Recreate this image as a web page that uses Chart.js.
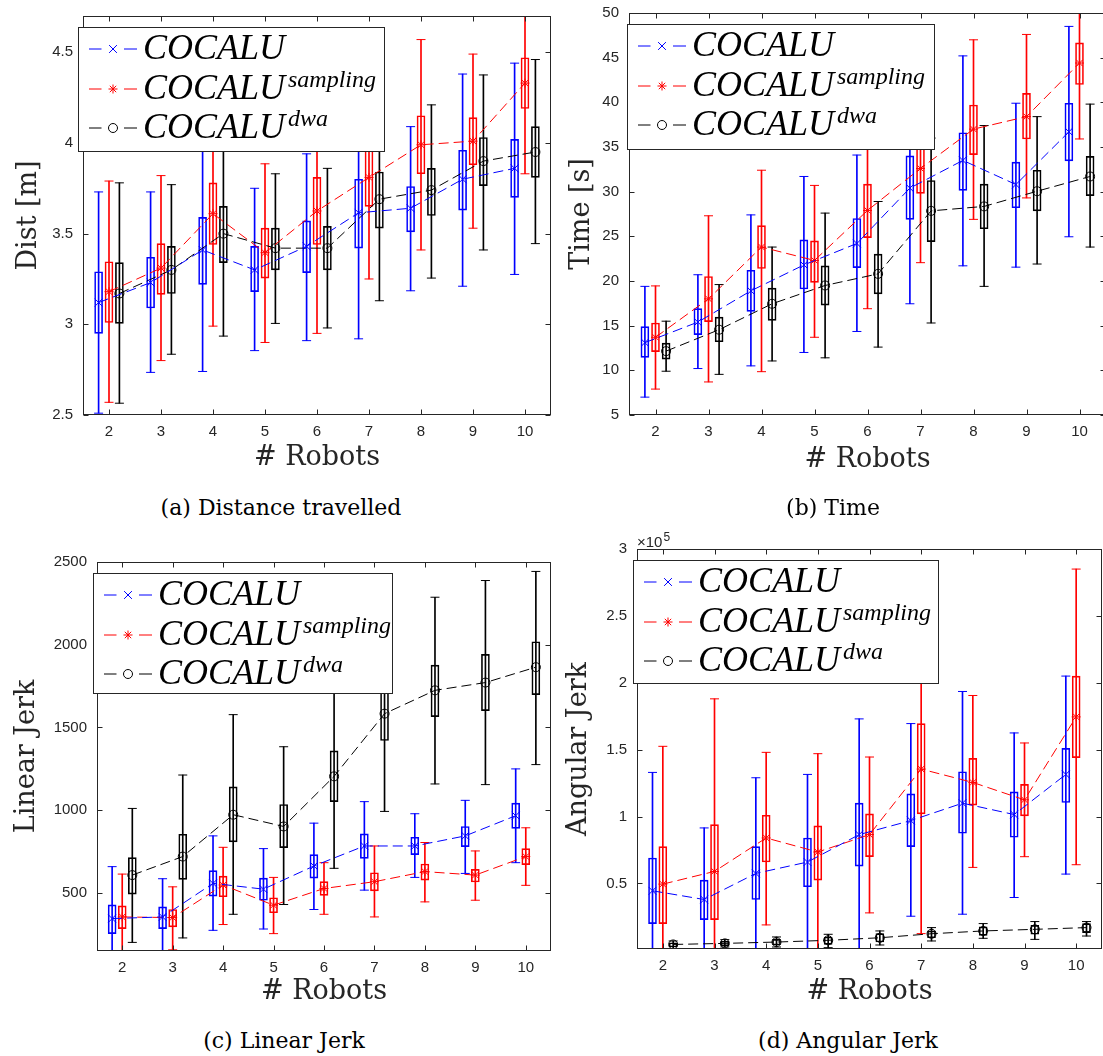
<!DOCTYPE html>
<html>
<head>
<meta charset="utf-8">
<script src="https://cdn.jsdelivr.net/npm/chart.js@4/dist/chart.umd.min.js"></script>
<style>
  body { margin: 0; width: 1103px; height: 1056px; overflow: hidden; background: #fff; position: relative; }
  .panel { position: absolute; }
  .legend { position: absolute; background: #fff; border: 1px solid #262626; box-sizing: border-box; }
  .row { position: absolute; left: 0; right: 0; height: 40px; }
  .row svg { position: absolute; left: 0; top: 10px; }
  .row .name { position: absolute; left: 64px; top: -3px; line-height: 40px; font: italic 36px 'Liberation Serif', serif; white-space: nowrap; color: #000; }
  .row .sup { position: relative; top: -12px; font-size: 24px; margin-left: 3px; }
  .caption { position: absolute; font: 22px 'DejaVu Serif', serif; transform: translate(-50%, -50%); white-space: nowrap; color: #000; }
  .expo { position: absolute; font: 15px 'Liberation Sans', sans-serif; color: #262626; white-space: nowrap; }
</style>
</head>
<body>
<script>
// number of robots on the x axis
const ROBOTS = [2, 3, 4, 5, 6, 7, 8, 9, 10];

// (a) distance travelled [m]
const distCocaluHi   = [3.73, 3.73, 4.25, 3.75, 3.94, 4.30, 4.09, 4.38, 4.44];
const distCocaluQ3   = [3.29, 3.37, 3.59, 3.43, 3.57, 3.80, 3.76, 3.96, 4.02];
const distCocaluMean = [3.12, 3.23, 3.41, 3.30, 3.43, 3.615, 3.64, 3.80, 3.86];
const distCocaluQ1   = [2.95, 3.09, 3.22, 3.18, 3.285, 3.42, 3.51, 3.63, 3.70];
const distCocaluLo   = [2.51, 2.735, 2.74, 2.855, 2.91, 2.92, 3.185, 3.21, 3.275];

const distSampHi   = [3.79, 3.82, 4.35, 3.885, 4.30, 4.40, 4.57, 4.49, 4.80];
const distSampQ3   = [3.345, 3.445, 3.78, 3.53, 3.81, 3.97, 4.15, 4.14, 4.47];
const distSampMean = [3.18, 3.31, 3.61, 3.395, 3.625, 3.81, 3.99, 4.01, 4.33];
const distSampQ1   = [3.01, 3.165, 3.44, 3.255, 3.44, 3.65, 3.83, 3.88, 4.19];
const distSampLo   = [2.57, 2.80, 2.99, 2.90, 2.95, 3.25, 3.41, 3.53, 3.83];

const distDwaHi   = [3.78, 3.77, 4.20, 3.83, 3.86, 4.25, 4.21, 4.375, 4.46];
const distDwaQ3   = [3.34, 3.43, 3.65, 3.53, 3.54, 3.84, 3.86, 4.03, 4.09];
const distDwaMean = [3.17, 3.30, 3.50, 3.42, 3.42, 3.69, 3.74, 3.90, 3.95];
const distDwaQ1   = [3.005, 3.17, 3.34, 3.30, 3.30, 3.53, 3.60, 3.765, 3.81];
const distDwaLo   = [2.565, 2.835, 2.935, 3.005, 2.98, 3.13, 3.255, 3.41, 3.445];

// (b) time [s]
const timeCocaluHi   = [19.4, 20.7, 27.4, 31.7, 34.1, 38.0, 45.2, 39.9, 48.5];
const timeCocaluQ3   = [14.9, 16.9, 21.2, 24.6, 27.0, 34.0, 36.6, 33.3, 39.9];
const timeCocaluMean = [13.1, 15.4, 18.9, 21.8, 24.2, 30.4, 33.5, 30.8, 36.7];
const timeCocaluQ1   = [11.45, 14.0, 16.6, 19.1, 21.5, 26.9, 30.15, 28.2, 33.45];
const timeCocaluLo   = [7.0, 10.2, 10.5, 12.0, 14.35, 17.45, 21.7, 21.55, 24.95];

const timeSampHi   = [19.45, 27.3, 32.4, 30.7, 37.0, 41.0, 47.0, 47.6, 52.0];
const timeSampQ3   = [15.3, 20.5, 26.2, 24.5, 30.85, 35.5, 39.7, 41.0, 46.65];
const timeSampMean = [13.7, 18.0, 23.8, 22.3, 27.9, 32.6, 37.0, 38.4, 44.4];
const timeSampQ1   = [12.1, 15.45, 21.4, 19.85, 24.85, 29.8, 34.15, 35.9, 42.0];
const timeSampLo   = [7.9, 8.7, 9.85, 13.7, 16.9, 22.05, 26.9, 29.3, 35.9];

const timeDwaHi   = [15.5, 19.6, 23.8, 27.6, 28.9, 36.0, 37.4, 38.4, 39.8];
const timeDwaQ3   = [13.05, 15.95, 19.2, 21.7, 23.0, 31.25, 30.85, 32.4, 33.95];
const timeDwaMean = [12.15, 14.55, 17.45, 19.5, 20.8, 27.85, 28.35, 30.05, 31.7];
const timeDwaQ1   = [11.25, 13.2, 15.6, 17.3, 18.55, 24.4, 25.85, 27.85, 29.55];
const timeDwaLo   = [9.9, 9.55, 11.05, 11.4, 12.6, 15.3, 19.4, 21.9, 23.8];

// (c) linear jerk
const linCocaluHi   = [658, 585, 844, 767, 921, 1051, 978, 1059, 1249];
const linCocaluQ3   = [427, 415, 634, 589, 731, 856, 836, 901, 1042];
const linCocaluMean = [344, 354, 557, 522, 662, 783, 783, 844, 966];
const linCocaluQ1   = [253, 283, 480, 455, 589, 708, 731, 779, 889];
const linCocaluLo   = [120, 120, 273, 281, 399, 516, 593, 617, 682];

const linSampHi   = [613, 536, 775, 593, 682, 783, 804, 753, 893];
const linSampQ3   = [421, 399, 601, 470, 567, 621, 674, 642, 767];
const linSampMean = [354, 350, 547, 425, 526, 567, 628, 607, 719];
const linSampQ1   = [283, 294, 476, 379, 484, 512, 577, 565, 670];
const linSampLo   = [120, 155, 308, 253, 370, 354, 445, 455, 545];

const linDwaHi   = [1010, 1212, 1577, 1383, 1950, 2150, 2287, 2388, 2443];
const linDwaQ3   = [713, 854, 1140, 1034, 1358, 1760, 1876, 1941, 2018];
const linDwaMean = [607, 719, 972, 901, 1204, 1583, 1724, 1771, 1864];
const linDwaQ1   = [492, 581, 808, 773, 1051, 1421, 1565, 1601, 1698];
const linDwaLo   = [200, 227, 370, 429, 648, 992, 1158, 1154, 1275];

// (d) angular jerk, in units of 1e5
const angCocaluHi   = [1.33, 0.915, 1.29, 1.315, 1.73, 1.695, 1.935, 1.625, 2.05];
const angCocaluQ3   = [0.69, 0.525, 0.775, 0.84, 1.10, 1.17, 1.335, 1.185, 1.51];
const angCocaluMean = [0.445, 0.38, 0.575, 0.66, 0.865, 0.97, 1.10, 1.015, 1.315];
const angCocaluQ1   = [0.20, 0.23, 0.38, 0.475, 0.63, 0.775, 0.875, 0.845, 1.105];
const angCocaluLo   = [0, 0, 0, 0, 0.005, 0.255, 0.27, 0.395, 0.57];

const angSampHi   = [1.525, 1.88, 1.48, 1.47, 1.445, 2.2, 1.905, 1.55, 2.85];
const angSampQ3   = [0.775, 0.94, 1.01, 0.93, 1.02, 1.695, 1.435, 1.24, 2.05];
const angSampMean = [0.495, 0.59, 0.84, 0.735, 0.865, 1.355, 1.255, 1.125, 1.745];
const angSampQ1   = [0.20, 0.23, 0.66, 0.525, 0.70, 1.02, 1.085, 1.005, 1.44];
const angSampLo   = [0, 0, 0.19, 0, 0.28, 0.125, 0.62, 0.70, 0.64];

const angDwaHi   = [0.07, 0.08, 0.10, 0.12, 0.145, 0.17, 0.20, 0.215, 0.215];
const angDwaQ3   = [0.057, 0.068, 0.082, 0.10, 0.125, 0.145, 0.175, 0.187, 0.20];
const angDwaMean = [0.044, 0.052, 0.062, 0.075, 0.094, 0.124, 0.145, 0.157, 0.17];
const angDwaQ1   = [0.025, 0.034, 0.04, 0.045, 0.062, 0.094, 0.112, 0.12, 0.132];
const angDwaLo   = [0.014, 0.025, 0.025, 0.02, 0.04, 0.07, 0.09, 0.082, 0.107];

// y tick labels of each panel
const distTicks = [2.5, 3, 3.5, 4, 4.5];
const timeTicks = [5, 10, 15, 20, 25, 30, 35, 40, 45, 50];
const linTicks = [500, 1000, 1500, 2000, 2500];
const angTicks = [0.5, 1, 1.5, 2, 2.5, 3];

const BLUE = '#0000ff', RED = '#ff0000', BLACK = '#000000';
const AXIS_COLOR = '#262626';

// box, whisker, caps and mean line for one method
function seriesDatasets(color, shift, lo, q1, mean, q3, hi, style, radius) {
    const xs = ROBOTS.map(r => r + shift);
    return [
        {
            type: 'bar',
            data: xs.map((x, i) => ({ x: x, y: [lo[i], hi[i]] })),
            backgroundColor: color,
            borderWidth: 0,
            barThickness: 1,
            maxBarThickness: 1,
            grouped: false,
            order: 3,
            clip: 0,
        },
        {
            type: 'bar',
            data: xs.map((x, i) => ({ x: x, y: [q1[i], q3[i]] })),
            backgroundColor: 'rgba(0,0,0,0)',
            borderColor: color,
            borderWidth: 1,
            borderSkipped: false,
            barThickness: 8,
            maxBarThickness: 8,
            grouped: false,
            order: 2,
            clip: 0,
        },
        {
            type: 'line',
            data: xs.flatMap((x, i) => [{ x: x, y: lo[i] }, { x: x, y: hi[i] }]),
            showLine: false,
            pointStyle: 'line',
            pointRadius: 4.5,
            pointBorderColor: color,
            pointBorderWidth: 1,
            order: 2,
            clip: 0,
        },
        {
            type: 'line',
            data: xs.map((x, i) => ({ x: x, y: mean[i] })),
            borderColor: color,
            borderWidth: 1,
            borderDash: [10, 5],
            fill: false,
            tension: 0,
            pointStyle: style,
            pointRadius: radius,
            pointBorderColor: color,
            pointBackgroundColor: 'rgba(0,0,0,0)',
            pointBorderWidth: 1,
            order: 1,
            clip: 0,
        },
    ];
}

// axes box with inward ticks, matlab style
const framePlugin = {
    id: 'frame',
    afterDraw(chart) {
        const { ctx, chartArea: a, scales: { x, y } } = chart;
        const l = Math.round(a.left) + 0.5, r = Math.round(a.right) - 0.5;
        const t = Math.round(a.top) + 0.5, b = Math.round(a.bottom) - 0.5;
        ctx.save();
        ctx.strokeStyle = AXIS_COLOR;
        ctx.lineWidth = 1;
        ctx.strokeRect(l, t, r - l, b - t);
        ctx.beginPath();
        x.ticks.forEach(tk => {
            const px = Math.round(x.getPixelForValue(tk.value)) + 0.5;
            ctx.moveTo(px, b); ctx.lineTo(px, b - 5);
            ctx.moveTo(px, t); ctx.lineTo(px, t + 5);
        });
        y.ticks.forEach(tk => {
            const py = Math.round(y.getPixelForValue(tk.value)) + 0.5;
            ctx.moveTo(l, py); ctx.lineTo(l + 5, py);
            ctx.moveTo(r, py); ctx.lineTo(r - 5, py);
        });
        ctx.stroke();
        ctx.restore();
    },
};

const PT = 20, PR = 8;

function makePanel(p) {
    // W, H: widths of the y / x scale boxes so that the titles land where they should
    const W = Math.round(p.L + 18.2 - p.titleX);
    const H = Math.round(p.titleY - p.B + 18.2);
    const div = document.createElement('div');
    div.className = 'panel';
    div.style.left = (p.L - W) + 'px';
    div.style.top = (p.T - PT) + 'px';
    const canvas = document.createElement('canvas');
    canvas.width = p.R - p.L + W + PR;
    canvas.height = p.B - p.T + PT + H;
    div.appendChild(canvas);
    document.body.appendChild(div);

    new Chart(canvas, {
        type: 'bar',
        data: {
            datasets: [
                ...seriesDatasets(BLUE, -0.2, p.blue[0], p.blue[1], p.blue[2], p.blue[3], p.blue[4], 'crossRot', 5.5),
                ...seriesDatasets(RED, 0, p.red[0], p.red[1], p.red[2], p.red[3], p.red[4], 'star', 4.5),
                ...seriesDatasets(BLACK, 0.2, p.black[0], p.black[1], p.black[2], p.black[3], p.black[4], 'circle', 4.5),
            ],
        },
        options: {
            responsive: false,
            devicePixelRatio: 1,
            animation: false,
            layout: { padding: { top: PT, right: PR, left: 0, bottom: 0 } },
            plugins: { legend: { display: false }, tooltip: { enabled: false } },
            scales: {
                x: {
                    type: 'linear',
                    min: 1.5,
                    max: 10.5,
                    offset: false,
                    afterBuildTicks: s => { s.ticks = ROBOTS.map(v => ({ value: v })); },
                    afterFit: s => { s.height = H; },
                    grid: { display: false, drawTicks: false, offset: false },
                    border: { display: false },
                    ticks: {
                        color: AXIS_COLOR,
                        font: { family: 'Liberation Sans', size: 15 },
                        padding: 8,
                        maxRotation: 0,
                        autoSkip: false,
                        callback: v => String(v),
                    },
                    title: {
                        display: true,
                        text: '# Robots',
                        color: AXIS_COLOR,
                        font: { family: 'DejaVu Serif', size: 27 },
                        padding: { top: 0, bottom: 2 },
                    },
                },
                y: {
                    type: 'linear',
                    min: p.yMin,
                    max: p.yMax,
                    beginAtZero: false,
                    afterBuildTicks: s => { s.ticks = p.yTicks.map(v => ({ value: v })); },
                    afterFit: s => { s.width = W; },
                    grid: { display: false, drawTicks: false },
                    border: { display: false },
                    ticks: {
                        color: AXIS_COLOR,
                        font: { family: 'Liberation Sans', size: 15 },
                        padding: 10,
                        autoSkip: false,
                        callback: v => String(v),
                    },
                    title: {
                        display: true,
                        text: p.yLabel,
                        color: AXIS_COLOR,
                        font: { family: 'DejaVu Serif', size: 27 },
                        padding: { top: 2, bottom: 0 },
                    },
                },
            },
        },
        plugins: [framePlugin],
    });

    addLegend(p.legendX, p.legendY, p.legendW, p.legendH);
}

function markerSvg(kind, color) {
    const cx = 34, cy = 10;
    let m;
    if (kind === 'x') {
        const d = 3.9;
        m = `<path d="M${cx - d} ${cy - d}L${cx + d} ${cy + d}M${cx - d} ${cy + d}L${cx + d} ${cy - d}"/>`;
    } else if (kind === 'star') {
        const r = 4.5, d = 3.2;
        m = `<path d="M${cx - r} ${cy}L${cx + r} ${cy}M${cx} ${cy - r}L${cx} ${cy + r}M${cx - d} ${cy - d}L${cx + d} ${cy + d}M${cx - d} ${cy + d}L${cx + d} ${cy - d}"/>`;
    } else {
        m = `<circle cx="${cx}" cy="${cy}" r="4.5"/>`;
    }
    return `<svg width="64" height="20"><g stroke="${color}" stroke-width="1" fill="none"><path d="M10 10H22.5M45 10H58"/>${m}</g></svg>`;
}

function addLegend(x, y, w, h) {
    const lg = document.createElement('div');
    lg.className = 'legend';
    lg.style.left = x + 'px';
    lg.style.top = y + 'px';
    lg.style.width = w + 'px';
    lg.style.height = h + 'px';
    const rows = [
        { kind: 'x', color: BLUE, sup: '' },
        { kind: 'star', color: RED, sup: 'sampling' },
        { kind: 'o', color: BLACK, sup: 'dwa' },
    ];
    const centers = [22, 61.5, 100.5];
    rows.forEach((r, i) => {
        const row = document.createElement('div');
        row.className = 'row';
        row.style.top = (centers[i] - 21) + 'px';
        row.innerHTML = markerSvg(r.kind, r.color) +
            `<span class="name">COCALU${r.sup ? `<span class="sup">${r.sup}</span>` : ''}</span>`;
        lg.appendChild(row);
    });
    document.body.appendChild(lg);
}

function addCaption(text, cx, cy) {
    const c = document.createElement('div');
    c.className = 'caption';
    c.textContent = text;
    c.style.left = cx + 'px';
    c.style.top = cy + 'px';
    document.body.appendChild(c);
}

makePanel({
    L: 83, T: 16, R: 551, B: 415, titleX: 29, titleY: 458,
    yMin: 2.5, yMax: 4.7, yTicks: distTicks, yLabel: 'Dist [m]',
    blue: [distCocaluLo, distCocaluQ1, distCocaluMean, distCocaluQ3, distCocaluHi],
    red: [distSampLo, distSampQ1, distSampMean, distSampQ3, distSampHi],
    black: [distDwaLo, distDwaQ1, distDwaMean, distDwaQ3, distDwaHi],
    legendX: 78, legendY: 27, legendW: 307, legendH: 125,
});

makePanel({
    L: 629, T: 13, R: 1106, B: 415, titleX: 582, titleY: 460,
    yMin: 5, yMax: 50, yTicks: timeTicks, yLabel: 'Time [s]',
    blue: [timeCocaluLo, timeCocaluQ1, timeCocaluMean, timeCocaluQ3, timeCocaluHi],
    red: [timeSampLo, timeSampQ1, timeSampMean, timeSampQ3, timeSampHi],
    black: [timeDwaLo, timeDwaQ1, timeDwaMean, timeDwaQ3, timeDwaHi],
    legendX: 627, legendY: 24, legendW: 308, legendH: 126,
});

makePanel({
    L: 97, T: 562, R: 551, B: 951, titleX: 27, titleY: 992,
    yMin: 148, yMax: 2500, yTicks: linTicks, yLabel: 'Linear Jerk',
    blue: [linCocaluLo, linCocaluQ1, linCocaluMean, linCocaluQ3, linCocaluHi],
    red: [linSampLo, linSampQ1, linSampMean, linSampQ3, linSampHi],
    black: [linDwaLo, linDwaQ1, linDwaMean, linDwaQ3, linDwaHi],
    legendX: 93, legendY: 573, legendW: 300, legendH: 121,
});

makePanel({
    L: 637, T: 549, R: 1102, B: 949, titleX: 579, titleY: 992,
    yMin: 0.01, yMax: 3, yTicks: angTicks, yLabel: 'Angular Jerk',
    blue: [angCocaluLo, angCocaluQ1, angCocaluMean, angCocaluQ3, angCocaluHi],
    red: [angSampLo, angSampQ1, angSampMean, angSampQ3, angSampHi],
    black: [angDwaLo, angDwaQ1, angDwaMean, angDwaQ3, angDwaHi],
    legendX: 633, legendY: 560, legendW: 306, legendH: 124,
});

const expo = document.createElement('div');
expo.className = 'expo';
expo.style.left = '637px';
expo.style.top = '533px';
expo.innerHTML = '×10<span style="position:relative;top:-6px;font-size:12px;margin-left:1px">5</span>';
document.body.appendChild(expo);

addCaption('(a) Distance travelled', 281, 507);
addCaption('(b) Time', 833, 507);
addCaption('(c) Linear Jerk', 284, 1040);
addCaption('(d) Angular Jerk', 848, 1040);
</script>
</body>
</html>
